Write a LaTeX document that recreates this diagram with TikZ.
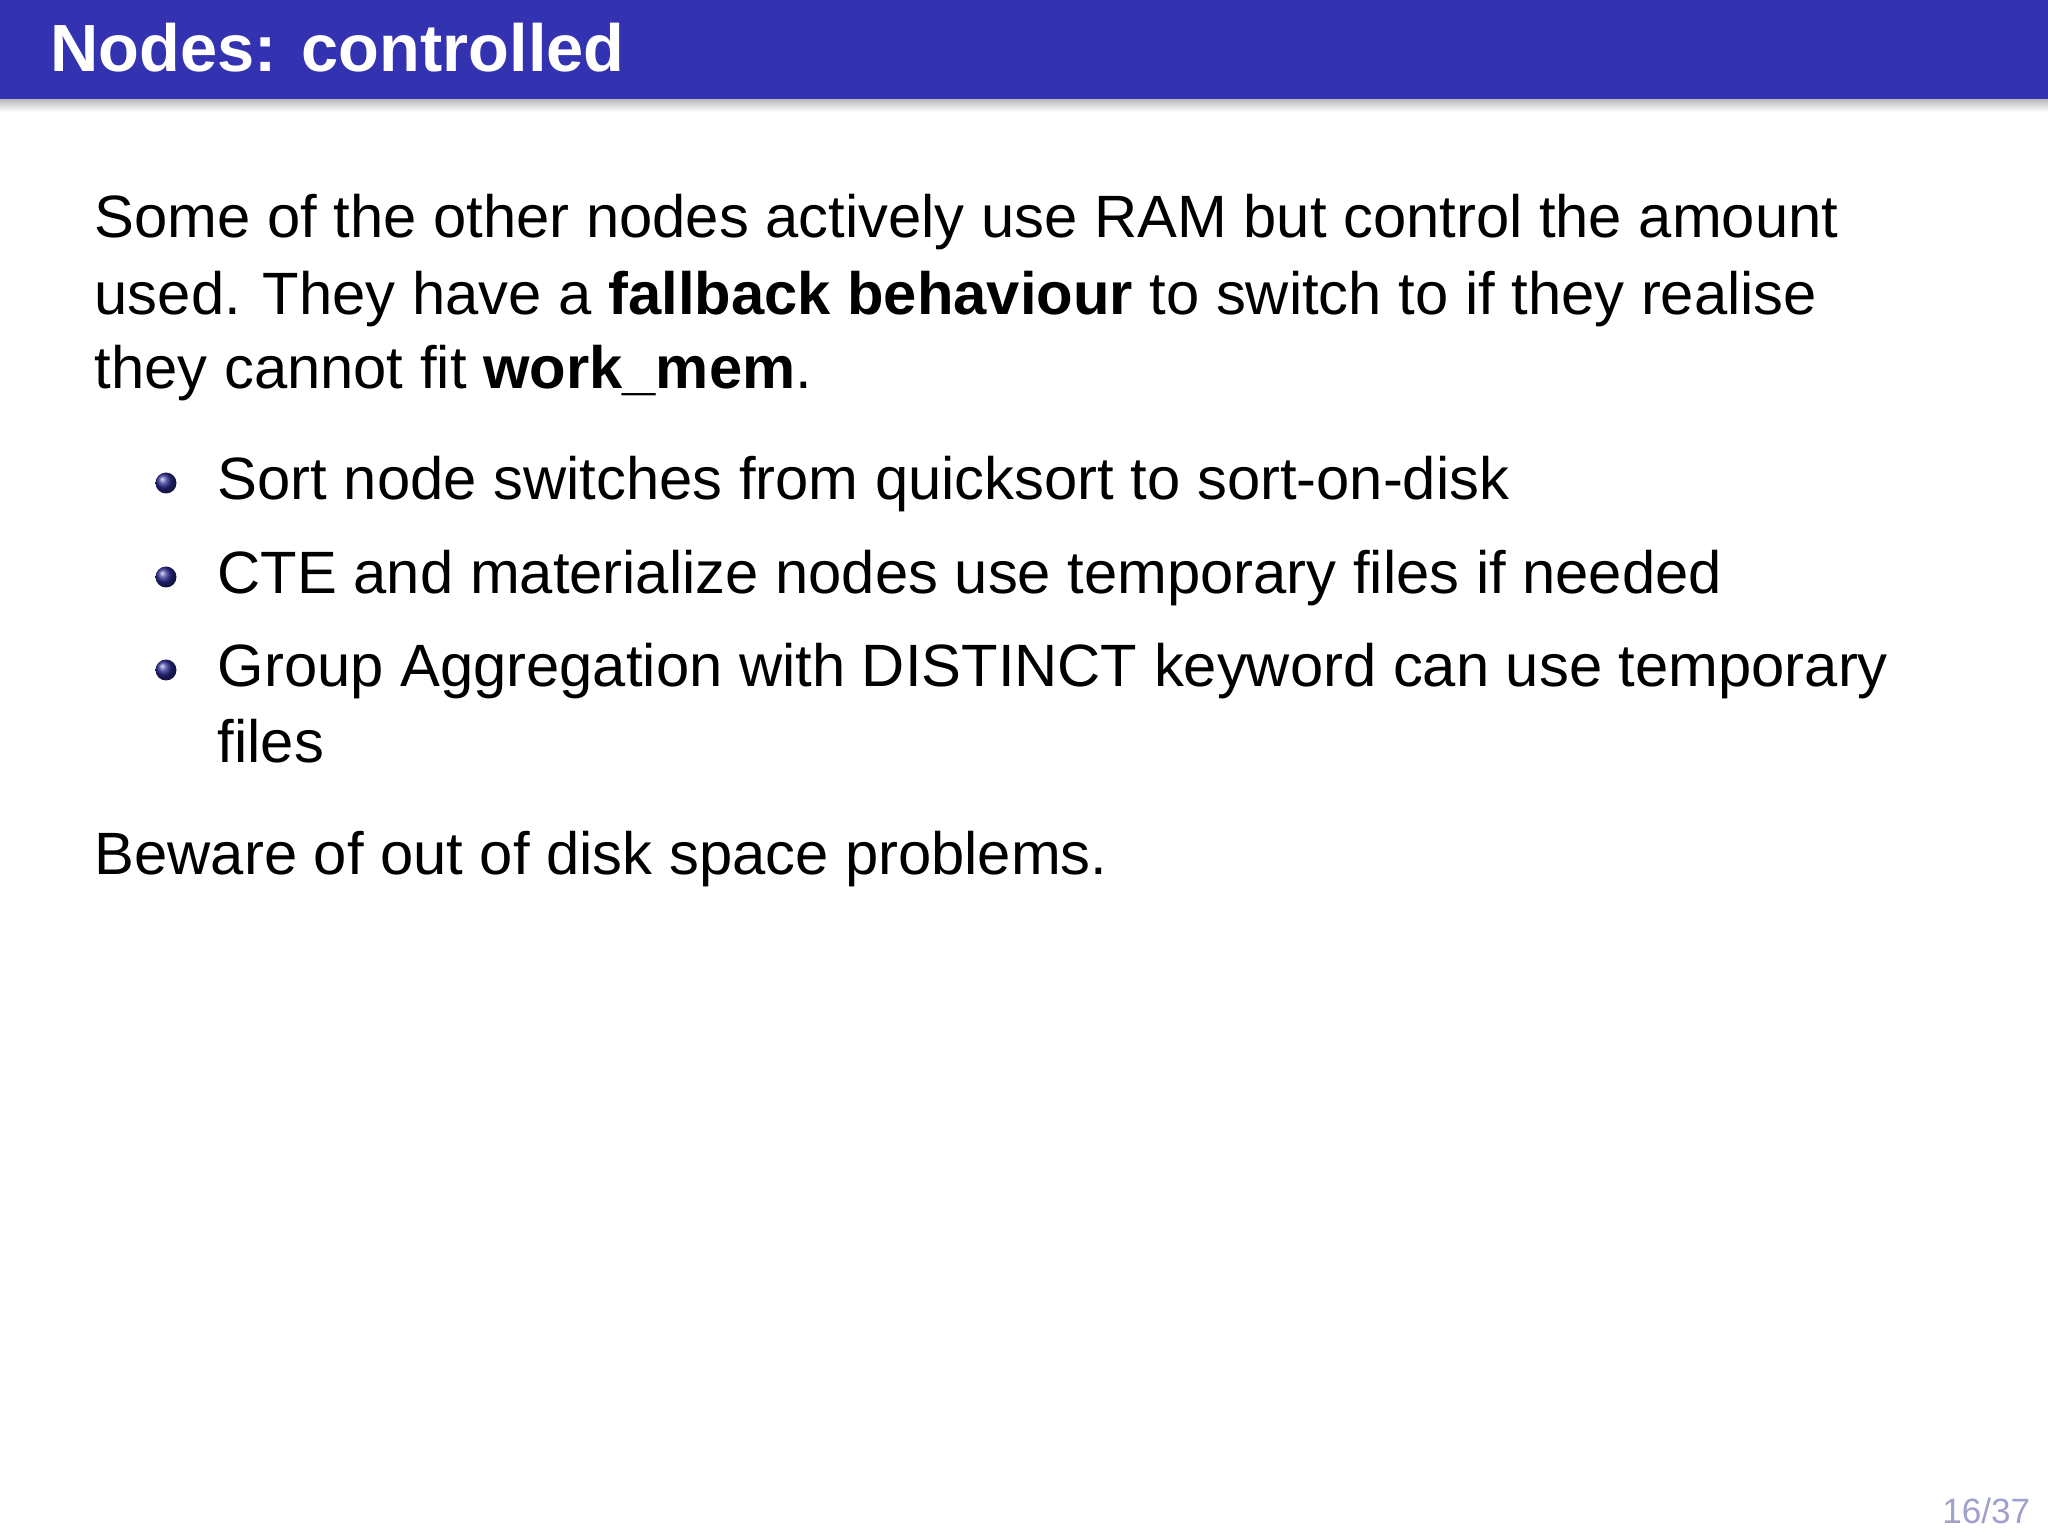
\documentclass[tikz,border=0pt]{standalone}
\usepackage{fontspec}
\setmainfont{Liberation Sans}
\usetikzlibrary{shadings}
\definecolor{barblue}{RGB}{51,51,178}
\definecolor{pagegray}{RGB}{160,160,205}
\begin{document}
\begin{tikzpicture}
\tikzstyle{every node}+=[inner sep=0pt, anchor=base west]
\tikzstyle{body}=[font=\fontsize{17}{20}\selectfont]
\tikzstyle{bullet}=[ball color=barblue!80!black, draw=none]
\useasboundingbox (0,0) rectangle (20.48,-15.36);
\fill [barblue] (0,0) rectangle (20.48,-1.0);
\shade [top color=black!25, bottom color=white] (0,-1.0) rectangle (20.48,-1.12);
\node [font=\bfseries\fontsize{19}{22}\selectfont, text=white] (title) at (0.5,-0.72) {Nodes: controlled};
\node [body] (introa) at (0.94,-2.38) {Some of the other nodes actively use RAM but control the amount};
\node [body] (introb) at (0.94,-3.15) {used. They have a \textbf{fallback behaviour} to switch to if they realise};
\node [body] (introc) at (0.94,-3.89) {they cannot fit \textbf{work\_mem}.};
\shade [bullet] (1.66,-4.83) circle (0.105);
\node [body] (itema) at (2.17,-5.0) {Sort node switches from quicksort to sort-on-disk};
\shade [bullet] (1.66,-5.77) circle (0.105);
\node [body] (itemb) at (2.17,-5.94) {CTE and materialize nodes use temporary files if needed};
\shade [bullet] (1.66,-6.70) circle (0.105);
\node [body] (itemc) at (2.17,-6.87) {Group Aggregation with DISTINCT keyword can use temporary};
\node [body] (itemd) at (2.17,-7.63) {files};
\node [body] (beware) at (0.94,-8.74) {Beware of out of disk space problems.};
\node [anchor=base east, font=\fontsize{10}{12}\selectfont, text=pagegray] (page) at (20.31,-15.23) {16/37};
\end{tikzpicture}
\end{document}
